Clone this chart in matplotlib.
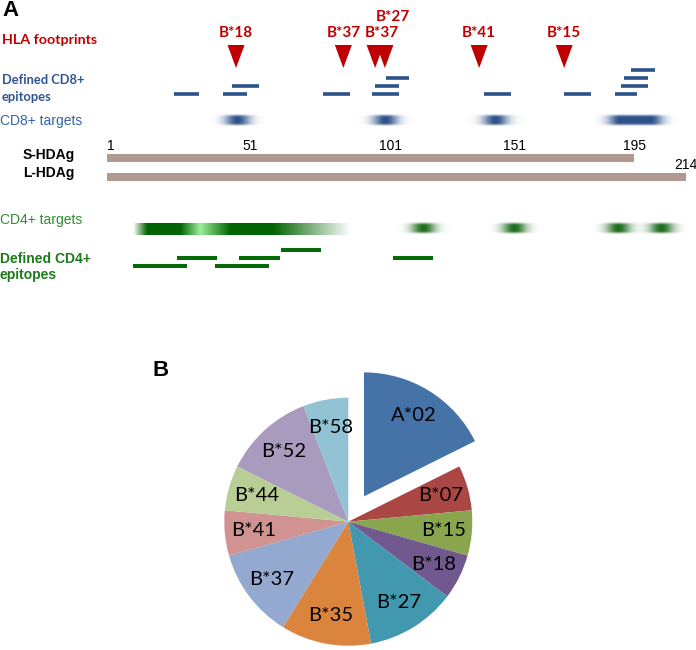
import matplotlib
matplotlib.use("Agg")
import matplotlib.pyplot as plt
import numpy as np

# --- panel A data (residue positions) ---
footprint_names = ["B*18", "B*37", "B*37", "B*27", "B*41", "B*15"]
footprint_pos = [48.5, 88, 99.7, 103.3, 138, 169.3]
footprint_row = [0, 0, 0, 1, 0, 0]        # label line (1 = stacked above)
footprint_lab_shift = [0, 0.3, 2.6, 3.0, 0, 0]

cd8_epi_start = [25.7, 43.6, 47.1, 80.6, 98.7, 99.7, 103.6, 139.8, 169.4, 188.0, 190.2, 191.3, 194.0]
cd8_epi_end = [34.8, 52.4, 56.8, 90.4, 108.6, 108.6, 112.3, 149.6, 179.2, 196.0, 200.3, 200.3, 202.8]
cd8_epi_level = [0, 0, 1, 0, 0, 1, 2, 0, 0, 0, 1, 2, 3]

cd8_target_start = [49.2, 103.6, 143.9, 190.0]
cd8_target_end = [49.2, 103.6, 143.9, 201.0]

cd4_band_pos = [10.6, 15.7, 27.9, 35.2, 46.3, 62.1, 90.5]
cd4_band_alpha = [0.0, 1.0, 1.0, 1.0, 1.0, 1.0, 0.0]
cd4_band_dark = [1.0, 1.0, 1.0, 0.0, 1.0, 1.0, 1.0]
cd4_target_start = [117.3, 151.0, 189.0, 205.0]
cd4_target_end = [117.3, 151.0, 189.0, 205.0]

cd4_epi_start = [10.7, 26.9, 40.8, 49.7, 65.0, 106.2]
cd4_epi_end = [30.6, 41.6, 60.5, 64.7, 79.6, 121.1]
cd4_epi_level = [0, 1, 0, 1, 2, 1]

s_hdag_len = 195
l_hdag_len = 214
ruler_ticks = [1, 51, 101, 151, 195]

# --- panel B data ---
hla_names = ["A*02", "B*07", "B*15", "B*18", "B*27", "B*35", "B*37", "B*41", "B*44", "B*52", "B*58"]
hla_counts = [3, 1, 1, 1, 2, 2, 2, 1, 1, 2, 1]
hla_colors = ["#4572A7", "#AA4643", "#89A54E", "#71588F", "#4198AF", "#DB843D",
              "#93A9CF", "#D19392", "#B9CD96", "#A99BBD", "#92C3D4"]

RED = "#C00000"
BLUE = "#2B5189"
BLUE_TXT = "#2F5597"
BLUE_LIGHT = "#3763A6"
GREEN = "#006400"
GREEN_TXT = "#2E8B2E"
GREEN_BOLD = "#1C7A1C"
TAN = "#B09A90"
CALIBRI = ["Lato", "DejaVu Sans"]
ARIAL = ["Liberation Sans", "DejaVu Sans"]

fig = plt.figure(figsize=(6.96, 6.5), dpi=100)
ax = fig.add_axes([0, 0, 1, 1])
ax.axis("off")

# residue -> pixel scale: p=1 at x=107 px, 2.7165 px per residue
scale = 2.7165
xmin = 1 - 107 / scale
xmax = 1 + (696 - 107) / scale


def px(x):
    # left-margin label position in residue units
    return xmin + x / scale


def blob(start, end, yc, h, color, fade):
    xs = np.linspace(start - 2.6 * fade, end + 2.6 * fade, 300)
    d = np.where(xs < start, start - xs, np.where(xs > end, xs - end, 0))
    ax_alpha = np.exp(-(d / fade) ** 2)
    ys = np.linspace(-1, 1, 30)
    ay = 1 / (1 + (np.abs(ys) / 0.8) ** 8)
    rgba = np.zeros((len(ys), len(xs), 4))
    rgba[..., :3] = matplotlib.colors.to_rgb(color)
    rgba[..., 3] = ay[:, None] * ax_alpha[None, :]
    ax.imshow(rgba, extent=(xs[0], xs[-1], yc + h / 2, yc - h / 2),
              aspect="auto", interpolation="bilinear", zorder=2)


# panel label
ax.text(px(2), 10, "A", fontsize=16, fontweight="bold", family=ARIAL, va="center")

# HLA footprints
ax.text(px(2), 40, "HLA footprints", color=RED, fontsize=10.3, fontweight="bold",
        family=CALIBRI, va="center")
tri_w = 17 / scale
for name, p, row, sh in zip(footprint_names, footprint_pos, footprint_row, footprint_lab_shift):
    ax.fill([p - tri_w / 2, p + tri_w / 2, p], [45, 45, 68], color=RED, lw=0, zorder=3)
    ax.text(p + sh, 33 - 16 * row, name, color=RED, fontsize=11, fontweight="bold",
            family=CALIBRI, ha="center", va="center")

# defined CD8+ epitopes
ax.text(px(2), 80, "Defined CD8+", color=BLUE_TXT, fontsize=9.3, fontweight="bold",
        family=CALIBRI, va="center")
ax.text(px(2), 97, "epitopes", color=BLUE_TXT, fontsize=9.3, fontweight="bold",
        family=CALIBRI, va="center")
for s, e, lv in zip(cd8_epi_start, cd8_epi_end, cd8_epi_level):
    ax.hlines(94.3 - 8 * lv, s, e, color=BLUE, lw=2.6)

# CD8+ targets
ax.text(px(0), 121, "CD8+ targets", color=BLUE_LIGHT, fontsize=10, family=ARIAL, va="center")
for s, e in zip(cd8_target_start, cd8_target_end):
    blob(s, e, 120.5, 12, BLUE, 4.6)

# protein bars
ax.text(px(23), 155, "S-HDAg", fontsize=10, fontweight="bold", family=ARIAL, va="center")
ax.text(px(23), 173, "L-HDAg", fontsize=10, fontweight="bold", family=ARIAL, va="center")
ax.hlines(158, 1, s_hdag_len, color=TAN, lw=5.8)
ax.hlines(177, 1, l_hdag_len, color=TAN, lw=5.8)
for t in ruler_ticks:
    ax.text(t, 146, str(t), fontsize=10, family=ARIAL, va="center",
            ha="left" if t < 150 else "center")
ax.text(l_hdag_len, 165, str(l_hdag_len), fontsize=10, family=ARIAL, va="center", ha="center")

# CD4+ targets
ax.text(px(0), 220, "CD4+ targets", color=GREEN_TXT, fontsize=10, family=ARIAL, va="center")
xs = np.linspace(cd4_band_pos[0], cd4_band_pos[-1], 400)
alpha = np.interp(xs, cd4_band_pos, cd4_band_alpha)
dark = np.interp(xs, cd4_band_pos, cd4_band_dark)
c_dark = np.array(matplotlib.colors.to_rgb(GREEN))
c_light = np.array(matplotlib.colors.to_rgb("#9CF09C"))
band = np.zeros((1, len(xs), 4))
band[0, :, :3] = dark[:, None] * c_dark + (1 - dark[:, None]) * c_light
band[0, :, 3] = alpha
ax.imshow(band, extent=(xs[0], xs[-1], 235, 223), aspect="auto",
          interpolation="bilinear", zorder=2)
for s, e in zip(cd4_target_start, cd4_target_end):
    blob(s, e, 228.5, 12, "#1E6E1E", 4.4)

# defined CD4+ epitopes
ax.text(px(0), 259, "Defined CD4+", color=GREEN_BOLD, fontsize=10, fontweight="bold",
        family=ARIAL, va="center")
ax.text(px(0), 275, "epitopes", color=GREEN_BOLD, fontsize=10, fontweight="bold",
        family=ARIAL, va="center")
for s, e, lv in zip(cd4_epi_start, cd4_epi_end, cd4_epi_level):
    ax.hlines(266 - 8 * lv, s, e, color="#066A06", lw=2.9)

ax.set_xlim(xmin, xmax)
ax.set_ylim(650, 0)

# panel B
ax.text(px(152), 370, "B", fontsize=16, fontweight="bold", family=ARIAL, va="center")

r_px = 124
cx, cy = 348.3, 521.7
w = 3 * r_px
axp = fig.add_axes([(cx - w / 2) / 696, (650 - cy - w / 2) / 650, w / 696, w / 650])
explode = [0.24] + [0] * (len(hla_counts) - 1)
wedges, texts = axp.pie(hla_counts, labels=hla_names, colors=hla_colors, startangle=90,
                        counterclock=False, explode=explode, labeldistance=0.77,
                        textprops=dict(fontsize=14.5, family=CALIBRI, color="black"))
for t in texts:
    t.set_ha("center")
    t.set_va("center")
axp.set_xlim(-1.5, 1.5)
axp.set_ylim(-1.5, 1.5)
axp.axis("off")

fig.savefig("out.png", dpi=100)
